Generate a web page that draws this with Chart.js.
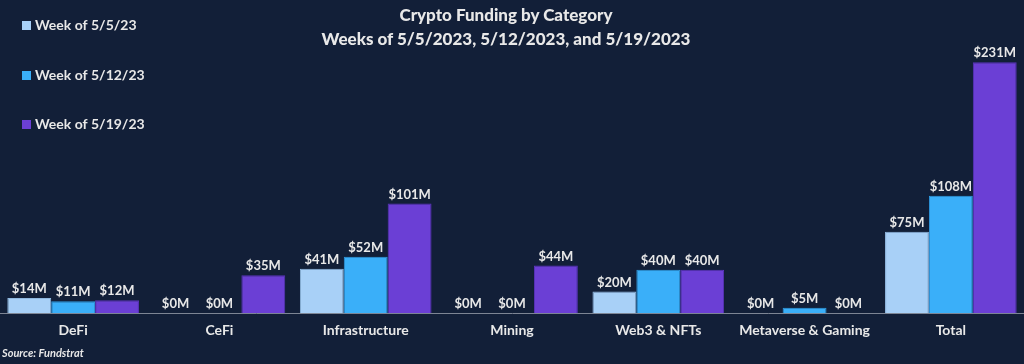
<!DOCTYPE html>
<html>
<head>
<meta charset="utf-8">
<script src="https://cdn.jsdelivr.net/npm/chart.js@4/dist/chart.umd.min.js"></script>
<style>
  html, body { margin: 0; padding: 0; background: #121f38; }
  #wrap { position: relative; width: 1024px; height: 364px; font-family: Lato, 'Noto Sans', sans-serif; color: #e8e8e8; }
  #title { position: absolute; left: 0; top: 3px; width: 1012px; text-align: center; font-weight: 900; font-size: 17px; line-height: 24px; }
  #source { position: absolute; left: 2px; top: 346px; font-size: 11px; font-weight: bold; font-style: italic; }
</style>
</head>
<body>
<div id="wrap">
  <canvas id="grafico" width="1024" height="364"></canvas>
  <div id="title">Crypto Funding by Category<br>Weeks of 5/5/2023, 5/12/2023, and 5/19/2023</div>
  <div id="source">Source: Fundstrat</div>
</div>
<script>
const categorias = ['DeFi', 'CeFi', 'Infrastructure', 'Mining', 'Web3 & NFTs', 'Metaverse & Gaming', 'Total']
const semanas = ['Week of 5/5/23', 'Week of 5/12/23', 'Week of 5/19/23']
const semana1 = [14, 0, 41, 0, 20, 0, 75]
const semana2 = [11, 0, 52, 0, 40, 5, 108]
const semana3 = [12, 35, 101, 44, 40, 0, 231]
const cores = ['#a8d0f7', '#3aaff9', '#6b3fd5']

// rotulos em cima das barras
const rotulos = {
    id: 'rotulos',
    afterDatasetsDraw(chart) {
        const ctx = chart.ctx
        ctx.save()
        ctx.font = 'bold 13px Lato, sans-serif'
        ctx.fillStyle = '#e8e8e8'
        ctx.textAlign = 'center'
        ctx.textBaseline = 'middle'
        chart.data.datasets.forEach(function (ds, i) {
            chart.getDatasetMeta(i).data.forEach(function (bar, j) {
                ctx.fillText('$' + ds.data[j] + 'M', bar.x, bar.y - 9)
            })
        })
        ctx.restore()
    }
}

// legenda vertical no canto
const legenda = {
    id: 'legenda',
    afterDraw(chart) {
        const ctx = chart.ctx
        const ys = [25, 75, 124]
        ctx.save()
        ctx.font = 'bold 14px Lato, sans-serif'
        ctx.textBaseline = 'middle'
        chart.data.datasets.forEach(function (ds, i) {
            ctx.fillStyle = ds.backgroundColor
            ctx.fillRect(22, ys[i] - 4, 9, 9)
            ctx.fillStyle = '#e8e8e8'
            ctx.fillText(ds.label, 35, ys[i])
        })
        ctx.restore()
    }
}

const dados = {
    labels: categorias,
    datasets: [
        { label: semanas[0], data: semana1, backgroundColor: cores[0], borderColor: '#8fb8e0', borderWidth: 1 },
        { label: semanas[1], data: semana2, backgroundColor: cores[1], borderColor: '#2f9ae0', borderWidth: 1 },
        { label: semanas[2], data: semana3, backgroundColor: cores[2], borderColor: '#5a33bb', borderWidth: 1 }
    ]
}

const config = {
    type: 'bar',
    data: dados,
    options: {
        responsive: false,
        animation: false,
        categoryPercentage: 0.9,
        barPercentage: 1.0,
        layout: { padding: { top: 10, bottom: 16, left: 0, right: 0 } },
        plugins: {
            legend: { display: false },
            tooltip: { enabled: false }
        },
        scales: {
            x: {
                grid: { display: false, drawTicks: false },
                border: { display: true, color: '#7d8594', width: 1 },
                ticks: { color: '#e8e8e8', padding: 9, font: { family: 'Lato', size: 14, weight: 'bold' } }
            },
            y: { display: false, min: 0, max: 279 }
        }
    },
    plugins: [rotulos, legenda]
}

const ctx = document.getElementById('grafico').getContext('2d')
let Grafico = new Chart(ctx, config)
</script>
</body>
</html>
